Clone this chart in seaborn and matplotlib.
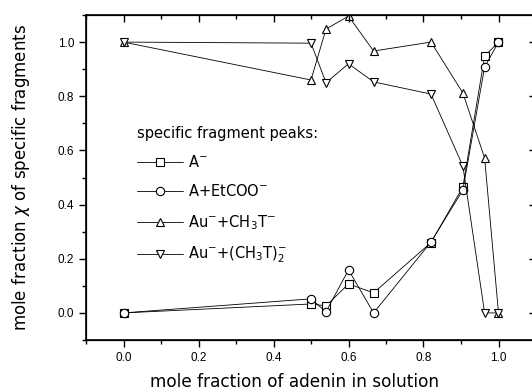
import matplotlib
matplotlib.use("Agg")
import matplotlib.pyplot as plt
import seaborn as sns
import numpy as np
import pandas as pd
from matplotlib.ticker import MultipleLocator

x_frac = [0.0, 0.5, 0.54, 0.6, 0.667, 0.82, 0.905, 0.963, 1.0]
y_A = [0.0, 0.033, 0.026, 0.107, 0.074, 0.26, 0.465, 0.948, 1.0]
y_EtCOO = [0.0, 0.052, 0.004, 0.159, 0.0, 0.262, 0.454, 0.908, 1.0]
y_CH3T = [1.0, 0.86, 1.048, 1.096, 0.967, 1.0, 0.812, 0.572, 0.0]
y_CH3T2 = [1.0, 0.996, 0.85, 0.92, 0.853, 0.808, 0.542, 0.0, 0.0]

labels = [r"A$\mathregular{^{-}}$",
          r"A+EtCOO$\mathregular{^{-}}$",
          r"Au$\mathregular{^{-}}$+CH$\mathregular{_3}$T$\mathregular{^{-}}$",
          r"Au$\mathregular{^{-}}$+(CH$\mathregular{_3}$T)$\mathregular{_2^{-}}$"]
markers = ["s", "o", "^", "v"]
series = [y_A, y_EtCOO, y_CH3T, y_CH3T2]

sns.set_style("ticks")
plt.rcParams['font.family'] = ['Liberation Sans', 'DejaVu Sans']
for k in ["text.color", "axes.labelcolor", "xtick.color", "ytick.color", "axes.edgecolor"]:
    plt.rcParams[k] = "black"

fig = plt.figure(figsize=(5.32, 3.92), dpi=100)
ax = fig.add_axes([86/532, 52/392, 450/532, 325/392])

for ys, m, lab in zip(series, markers, labels):
    sns.lineplot(x=x_frac, y=ys, ax=ax, color="black", lw=0.6, marker=m,
                 markersize=6, markerfacecolor="white", markeredgecolor="black",
                 markeredgewidth=0.8, estimator=None, sort=False, label=lab)

ax.set_xlim(-0.1, 1.1)
ax.set_ylim(-0.1, 1.1)
ax.xaxis.set_major_locator(MultipleLocator(0.2))
ax.xaxis.set_minor_locator(MultipleLocator(0.1))
ax.yaxis.set_major_locator(MultipleLocator(0.2))
ax.yaxis.set_minor_locator(MultipleLocator(0.1))
ax.tick_params(which="major", direction="out", length=5, width=1, labelsize=8.5)
ax.tick_params(which="minor", direction="out", length=3, width=1)
for s in ax.spines.values():
    s.set_linewidth(1.2)

# top and right inward ticks
axt = ax.twiny()
axt.set_xlim(ax.get_xlim())
axt.xaxis.set_major_locator(MultipleLocator(0.2))
axt.xaxis.set_minor_locator(MultipleLocator(0.1))
axt.tick_params(which="major", direction="in", length=5, width=1, labeltop=False)
axt.tick_params(which="minor", direction="in", length=3, width=1)
axr = ax.twinx()
axr.set_ylim(ax.get_ylim())
axr.yaxis.set_major_locator(MultipleLocator(0.2))
axr.yaxis.set_minor_locator(MultipleLocator(0.1))
axr.tick_params(which="major", direction="in", length=5, width=1, labelright=False)
axr.tick_params(which="minor", direction="in", length=3, width=1)

ax.set_xlabel("mole fraction of adenin in solution", family="DejaVu Sans", size=12.2)
ax.xaxis.label.set_va("baseline")
ax.xaxis.set_label_coords(0.464, -0.145)
ax.set_ylabel(r"mole fraction $\chi$ of specific fragments", family="DejaVu Sans", size=12.0)
ax.yaxis.set_label_coords(-0.12, 0.5)

leg = ax.legend(loc="upper left", bbox_to_anchor=(0.085, 0.70), frameon=False,
                title="specific fragment peaks:",
                prop={"family": "DejaVu Sans", "size": 10.5},
                handlelength=3.1, handletextpad=0.4, labelspacing=0.92)
leg.get_title().set_fontfamily("DejaVu Sans")
leg.get_title().set_fontsize(10.5)
leg._legend_box.align = "left"

fig.savefig("out.png", dpi=100)
